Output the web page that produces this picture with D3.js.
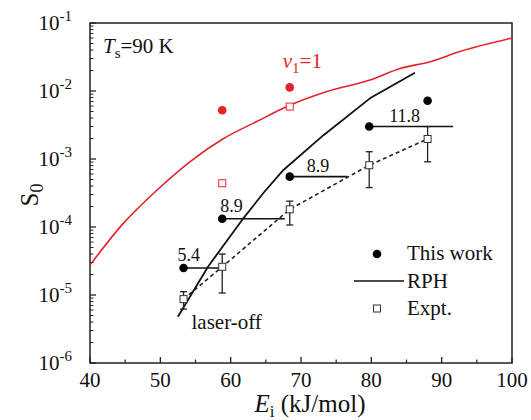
<!DOCTYPE html>
<html><head><meta charset="utf-8">
<script src="https://cdn.jsdelivr.net/npm/d3@7/dist/d3.min.js"></script>
<style>body{margin:0;background:#fff}svg{display:block}
svg text{font-family:"Liberation Serif","Times New Roman",Times,"DejaVu Serif","Noto Serif",serif !important}</style>
</head><body><svg id="c" width="531" height="420" style="font-family:'Liberation Serif','DejaVu Serif',serif"></svg>
<script>
// ---- data ----
const xTicks = [40, 50, 60, 70, 80, 90, 100];
const yTickExps = [-1, -2, -3, -4, -5, -6];

const redCurveE = [40, 44.7, 49.5, 54.2, 59.0, 63.7, 68.0, 73.7, 79.8, 84.1, 88.4, 92.6, 100];
const redCurveS = [2.75e-5, 1.12e-4, 3.47e-4, 9.1e-4, 2.0e-3, 3.55e-3, 5.9e-3, 9.8e-3, 1.45e-2, 2.14e-2, 2.7e-2, 3.8e-2, 6.0e-2];

const rphE = [52.5, 56.8, 61.6, 64.65, 67.5, 73.2, 79.8, 86.2];
const rphS = [4.8e-6, 2.63e-5, 1.26e-4, 3.16e-4, 6.9e-4, 2.24e-3, 7.8e-3, 1.86e-2];

const workE = [53.3, 58.8, 68.4, 79.7, 88.0];
const workS = [2.5e-5, 1.32e-4, 5.5e-4, 3.0e-3, 7.2e-3];
const workRangeEnd = [58.8, 67.7, 76.6, 91.6, null];
const workLabels = ["5.4", "8.9", "8.9", "11.8", ""];

const exptE = [53.3, 58.8, 68.4, 79.7, 88.0];
const exptS = [8.7e-6, 2.6e-5, 1.82e-4, 8.1e-4, 1.97e-3];
const exptLow = [6.2e-6, 1.07e-5, 1.07e-4, 3.8e-4, 9.1e-4];
const exptHigh = [1.12e-5, 4.0e-5, 2.4e-4, 1.28e-3, 3.0e-3];

const redDotE = [58.8, 68.4];
const redDotS = [5.2e-3, 1.13e-2];
const redSqE = [58.8, 68.4];
const redSqS = [4.4e-4, 5.9e-3];

// ---- layout ----
const W = 531, H = 420;
const m = {l: 90, r: 19, t: 23, b: 57};
const red = "#e3232b";
const ink = "#111";
const svg = d3.select("#c");
const x = d3.scaleLinear().domain([40, 100]).range([m.l, W - m.r]);
const y = d3.scaleLog().domain([1e-6, 1e-1]).range([H - m.b, m.t]);

// frame
svg.append("rect").attr("x", m.l).attr("y", m.t).attr("width", W - m.l - m.r).attr("height", H - m.t - m.b)
  .attr("fill", "none").attr("stroke", "#222").attr("stroke-width", 1.5);

// x ticks (inward)
const xMinor = d3.range(45, 100, 10);
svg.selectAll(".xt").data(xTicks).join("line").attr("x1", d => x(d)).attr("x2", d => x(d))
  .attr("y1", H - m.b).attr("y2", H - m.b - 6).attr("stroke", "#222").attr("stroke-width", 1.3);
svg.selectAll(".xm").data(xMinor).join("line").attr("x1", d => x(d)).attr("x2", d => x(d))
  .attr("y1", H - m.b).attr("y2", H - m.b - 3.5).attr("stroke", "#222").attr("stroke-width", 1.2);
svg.selectAll(".xl").data(xTicks).join("text").attr("x", d => x(d)).attr("y", H - m.b + 24)
  .attr("text-anchor", "middle").attr("font-size", 21).attr("fill", ink).text(d => d);

// y ticks (inward)
const yMinor = [];
for (let e = -6; e < -1; e++) for (let k = 2; k <= 9; k++) yMinor.push(k * Math.pow(10, e));
svg.selectAll(".yt").data(yTickExps).join("line").attr("x1", m.l).attr("x2", m.l + 6)
  .attr("y1", d => y(Math.pow(10, d))).attr("y2", d => y(Math.pow(10, d))).attr("stroke", "#222").attr("stroke-width", 1.3);
svg.selectAll(".ym").data(yMinor).join("line").attr("x1", m.l).attr("x2", m.l + 3.5)
  .attr("y1", d => y(d)).attr("y2", d => y(d)).attr("stroke", "#222").attr("stroke-width", 1);
const yl = svg.selectAll(".yl").data(yTickExps).join("text").attr("x", m.l - 18).attr("y", d => y(Math.pow(10, d)) + 7)
  .attr("text-anchor", "end").attr("font-size", 21).attr("fill", ink);
yl.append("tspan").text("10");
yl.append("tspan").attr("dy", -9).attr("font-size", 15).text(d => d);

// axis titles
svg.append("text").attr("transform", `translate(38,${(m.t + H - m.b) / 2 + 2}) rotate(-90)`).attr("text-anchor", "middle")
  .attr("font-size", 25).attr("fill", ink).call(t => { t.append("tspan").text("S"); t.append("tspan").attr("font-size", 18).attr("dy", 5).text("0"); });
const xt = svg.append("text").attr("x", (m.l + W - m.r) / 2 + 9).attr("y", H - 8).attr("text-anchor", "middle").attr("font-size", 25).attr("fill", ink);
xt.append("tspan").attr("font-style", "italic").text("E");
xt.append("tspan").attr("font-size", 17).attr("dy", 5).text("i");
xt.append("tspan").attr("dy", -5).text(" (kJ/mol)");

const g = svg.append("g");
const line = d3.line().x(d => x(d[0])).y(d => y(d[1]));
const smooth = d3.line().x(d => x(d[0])).y(d => y(d[1])).curve(d3.curveMonotoneX);

// red curve
g.append("path").attr("d", smooth(d3.zip(redCurveE, redCurveS))).attr("fill", "none").attr("stroke", red).attr("stroke-width", 1.6);
// RPH
g.append("path").attr("d", line(d3.zip(rphE, rphS))).attr("fill", "none").attr("stroke", ink).attr("stroke-width", 1.8).attr("stroke-linejoin", "round");
// dashed expt connection
g.append("path").attr("d", line(d3.zip(exptE, exptS))).attr("fill", "none").attr("stroke", "#222").attr("stroke-width", 1.6).attr("stroke-dasharray", "4,3");

// horizontal ranges of this work
workE.forEach((e, i) => {
  if (workRangeEnd[i] != null) {
    g.append("line").attr("x1", x(e)).attr("x2", x(workRangeEnd[i])).attr("y1", y(workS[i])).attr("y2", y(workS[i]))
      .attr("stroke", ink).attr("stroke-width", 1.6);
  }
});
// error bars
exptE.forEach((e, i) => {
  g.append("line").attr("x1", x(e)).attr("x2", x(e)).attr("y1", y(exptLow[i])).attr("y2", y(exptHigh[i])).attr("stroke", "#222").attr("stroke-width", 1.3);
  [exptLow[i], exptHigh[i]].forEach(v => g.append("line").attr("x1", x(e) - 3.5).attr("x2", x(e) + 3.5).attr("y1", y(v)).attr("y2", y(v)).attr("stroke", "#222").attr("stroke-width", 1.3));
});
// expt squares
g.selectAll(".es").data(d3.zip(exptE, exptS)).join("rect").attr("x", d => x(d[0]) - 3.5).attr("y", d => y(d[1]) - 3.5)
  .attr("width", 7).attr("height", 7).attr("fill", "#fff").attr("stroke", "#333").attr("stroke-width", 1);
// red squares
g.selectAll(".rs").data(d3.zip(redSqE, redSqS)).join("rect").attr("x", d => x(d[0]) - 3.5).attr("y", d => y(d[1]) - 3.5)
  .attr("width", 7).attr("height", 7).attr("fill", "#fff").attr("stroke", red).attr("stroke-width", 1);
// this work dots
g.selectAll(".wd").data(d3.zip(workE, workS)).join("circle").attr("cx", d => x(d[0])).attr("cy", d => y(d[1])).attr("r", 4.3).attr("fill", "#000");
// red dots
g.selectAll(".rd").data(d3.zip(redDotE, redDotS)).join("circle").attr("cx", d => x(d[0])).attr("cy", d => y(d[1])).attr("r", 4.3).attr("fill", red);

// labels on ranges
const labOff = [[-6, -7], [-2, -7], [17, -5], [20, -5]];
workLabels.forEach((t, i) => {
  if (!t) return;
  g.append("text").attr("x", x(workE[i]) + labOff[i][0]).attr("y", y(workS[i]) + labOff[i][1]).attr("font-size", 18).attr("fill", ink).text(t);
});

// annotations
const ts = svg.append("text").attr("x", m.l + 13).attr("y", m.t + 30).attr("font-size", 21).attr("fill", ink);
ts.append("tspan").attr("font-style", "italic").text("T");
ts.append("tspan").attr("font-size", 15).attr("dy", 5).text("s");
ts.append("tspan").attr("dy", -5).text("=90 K");
const nu = svg.append("text").attr("x", x(redDotE[1]) - 7).attr("y", y(redDotS[1]) - 19).attr("font-size", 21).attr("fill", red);
nu.append("tspan").attr("font-style", "italic").text("ν");
nu.append("tspan").attr("font-size", 15).attr("dy", 5).text("1");
nu.append("tspan").attr("dy", -5).text("=1");
svg.append("text").attr("x", x(exptE[0]) + 8).attr("y", y(exptS[0]) + 30).attr("font-size", 21).attr("fill", ink).text("laser-off");

// legend
const lx = 377, ly = 254;
svg.append("circle").attr("cx", lx).attr("cy", ly).attr("r", 4.3).attr("fill", "#000");
svg.append("text").attr("x", lx + 30).attr("y", ly + 6).attr("font-size", 21).attr("fill", ink).text("This work");
svg.append("line").attr("x1", lx - 23).attr("x2", lx + 27).attr("y1", ly + 27).attr("y2", ly + 27).attr("stroke", ink).attr("stroke-width", 1.6);
svg.append("text").attr("x", lx + 30).attr("y", ly + 34).attr("font-size", 21).attr("fill", ink).text("RPH");
svg.append("rect").attr("x", lx - 3.5).attr("y", ly + 51).attr("width", 7).attr("height", 7).attr("fill", "#fff").attr("stroke", "#333").attr("stroke-width", 1);
svg.append("text").attr("x", lx + 30).attr("y", ly + 61).attr("font-size", 21).attr("fill", ink).text("Expt.");
</script></body></html>
